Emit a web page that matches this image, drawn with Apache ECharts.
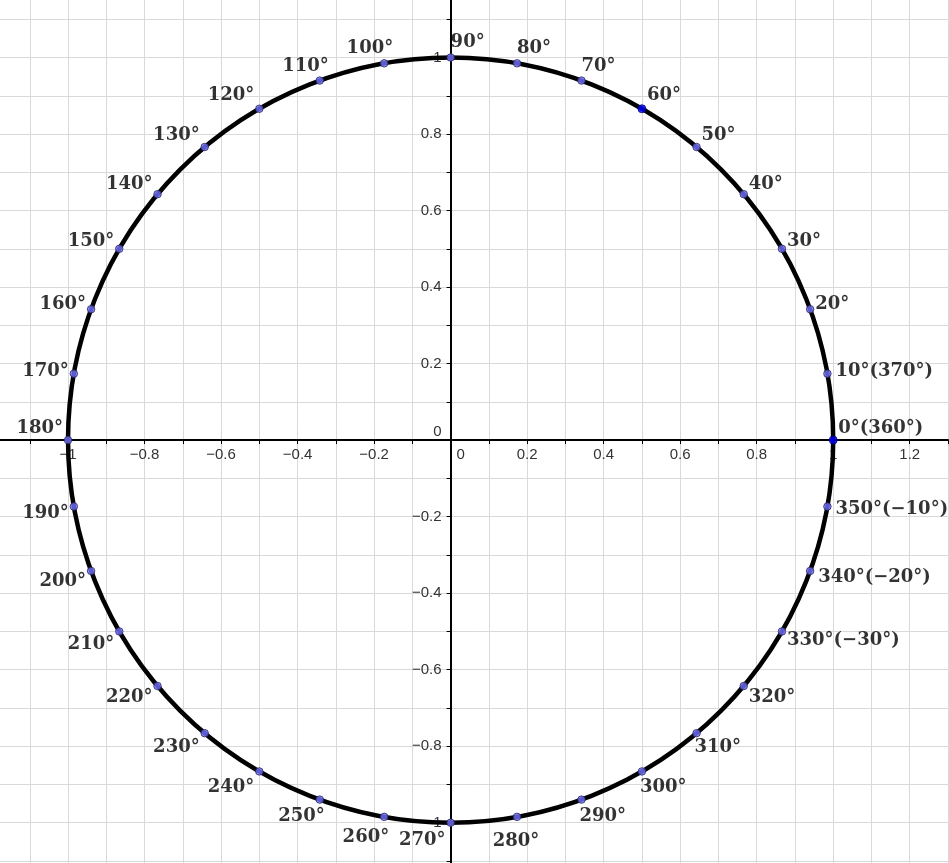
<!DOCTYPE html>
<html>
<head>
<meta charset="utf-8">
<script src="https://cdn.jsdelivr.net/npm/echarts@6/dist/echarts.min.js"></script>
<style>
  html, body { margin: 0; padding: 0; background: #fff; }
  #chart { width: 949px; height: 863px; }
</style>
</head>
<body>
<div id="chart"></div>
<script>
// angles marked on the unit circle, in degrees
const angles = [0, 10, 20, 30, 40, 50, 60, 70, 80, 90, 100, 110, 120, 130, 140, 150, 160, 170,
  180, 190, 200, 210, 220, 230, 240, 250, 260, 270, 280, 290, 300, 310, 320, 330, 340, 350];
const angleLabels = ['0°(360°)', '10°(370°)', '20°', '30°', '40°', '50°', '60°', '70°', '80°', '90°',
  '100°', '110°', '120°', '130°', '140°', '150°', '160°', '170°', '180°', '190°', '200°', '210°',
  '220°', '230°', '240°', '250°', '260°', '270°', '280°', '290°', '300°', '310°', '320°',
  '330°(−30°)', '340°(−20°)', '350°(−10°)'];
const highlighted = [0, 60];

const circleCenter = [0, 0];
const circleRadius = 1;

const xRange = [-1.2, 1.3];
const yRange = [-1.2, 1.2];
const step = 0.1;

// plot area runs a little past the canvas so the axes meet at the origin
const gridBox = { left: -8.5, right: 1, top: -19, bottom: -36.2 };
const W = 949, H = 863;
const unitX = (W - gridBox.left - gridBox.right) / (xRange[1] - xRange[0]);
const unitY = (H - gridBox.top - gridBox.bottom) / (yRange[1] - yRange[0]);
// shift the axes from the grid edges onto the zero lines
const xAxisShift = -(0 - yRange[0]) * unitY;
const yAxisShift = -(0 - xRange[0]) * unitX;

const chart = echarts.init(document.getElementById('chart'));

// where each angle's text sits next to its point
function labelSpot(deg) {
  const s = Math.sin(deg * Math.PI / 180);
  let dy = s < 0 ? -18 * s : -15 * s;
  if (deg === 0 || deg === 180) dy = -12;
  if (deg >= 190 && deg <= 210) dy += 4;
  if (deg === 260) dy += 3;
  if (deg === 280) return { align: 'center', dx: -1, dy: 24 };
  if (deg <= 90 || deg >= 290) {
    let dx = 5;
    if (deg >= 70 && deg <= 90) dx = 0;
    if (deg >= 290 && deg <= 310) dx = -2;
    if (deg === 10 || deg >= 340) dx = 8;
    return { align: 'left', dx, dy };
  }
  let dx = -5;
  if (deg <= 110) dx = 9;
  if (deg === 250 || deg === 260) dx = 5;
  return { align: 'right', dx, dy };
}

function tickText(v) {
  const k = Math.round(v * 10);
  if (k % 2 !== 0) return '';
  return String(Number((k / 10).toFixed(1))).replace('-', '−');
}

const axisFont = { fontFamily: 'Liberation Sans', fontSize: 15, color: '#333' };
const gridLine = { show: true, lineStyle: { color: '#d9d9d9', width: 1 } };
const angleFont = { fontFamily: 'DejaVu Serif', fontWeight: 'bold', fontSize: 18, color: '#000' };

const points = angles.map((deg, i) => {
  const t = deg * Math.PI / 180;
  const hot = highlighted.includes(deg);
  const spot = labelSpot(deg);
  return {
    value: [Math.cos(t), Math.sin(t)],
    symbolSize: hot ? 8 : 7.5,
    itemStyle: {
      color: hot ? '#0000ff' : '#7272ff',
      borderColor: hot ? '#00007a' : '#26265e',
      borderWidth: 1
    },
    label: {
      ...angleFont,
      formatter: angleLabels[i],
      align: spot.align,
      verticalAlign: 'middle',
      offset: [spot.dx, spot.dy]
    }
  };
});

const option = {
  backgroundColor: '#fff',
  animation: false,
  grid: { ...gridBox, outerBoundsMode: 'none', containLabel: false },
  xAxis: {
    type: 'value',
    position: 'bottom',
    offset: xAxisShift,
    min: xRange[0],
    max: xRange[1],
    interval: step,
    axisLine: { onZero: false, lineStyle: { color: '#000', width: 2 } },
    axisTick: { show: true, length: 4, lineStyle: { color: '#000', width: 1 } },
    splitLine: gridLine,
    axisLabel: {
      ...axisFont,
      margin: 7,
      showMinLabel: false,
      formatter: v => Math.abs(v) < 1e-9 ? '{zx|0}' : tickText(v),
      rich: { zx: { ...axisFont, padding: [0, 0, 0, 20] } }
    }
  },
  yAxis: {
    type: 'value',
    position: 'left',
    offset: yAxisShift,
    min: yRange[0],
    max: yRange[1],
    interval: step,
    axisLine: { onZero: false, lineStyle: { color: '#000', width: 2 } },
    axisTick: { show: true, length: 4, lineStyle: { color: '#000', width: 1 } },
    splitLine: gridLine,
    axisLabel: {
      ...axisFont,
      margin: 9,
      showMaxLabel: false,
      formatter: v => Math.abs(v) < 1e-9 ? '{zy|0}' : tickText(v),
      rich: { zy: { ...axisFont, padding: [0, 0, 16, 0] } }
    }
  },
  series: [
    {
      type: 'custom',
      coordinateSystem: 'cartesian2d',
      silent: true,
      clip: false,
      z: 3,
      encode: { x: 0, y: 1 },
      data: [[circleCenter[0], circleCenter[1], circleRadius]],
      renderItem: (params, api) => {
        const c = api.coord([api.value(0), api.value(1)]);
        const s = api.size([api.value(2), api.value(2)]);
        return {
          type: 'circle',
          shape: { cx: c[0], cy: c[1], r: (s[0] + s[1]) / 2 },
          style: { fill: 'none', stroke: '#000', lineWidth: 4.5 }
        };
      }
    },
    {
      type: 'scatter',
      z: 4,
      silent: true,
      symbol: 'circle',
      data: points,
      label: {
        show: true,
        position: 'inside',
        ...angleFont,
        textBorderWidth: 0
      }
    }
  ]
};

chart.setOption(option);
</script>
</body>
</html>
